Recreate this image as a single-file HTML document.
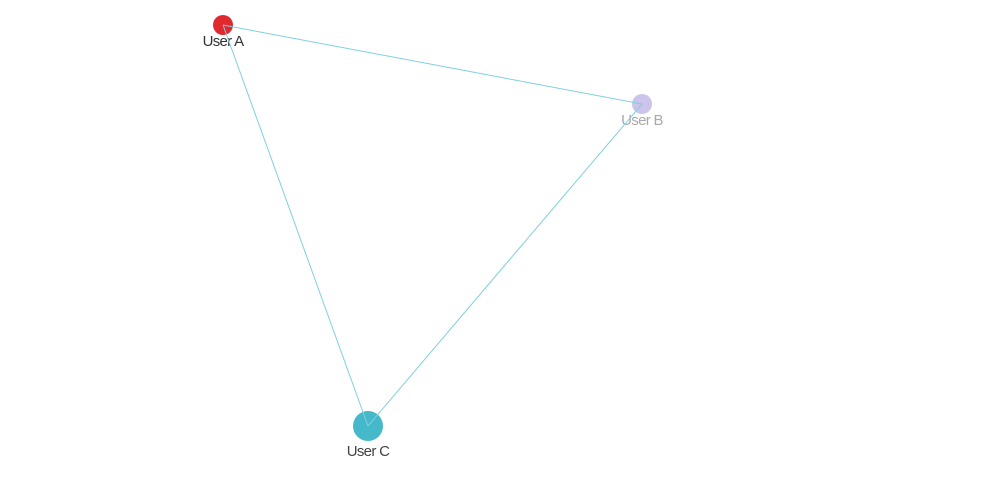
<!DOCTYPE html>
<html><head><meta charset="utf-8"><style>
body{margin:0;background:#fff;}
svg{display:block;font-family:"Liberation Sans",sans-serif;}
</style></head><body>
<svg id="chart" width="984" height="497" viewBox="0 0 984 497"></svg>
<script>
const nodeNames=["User A","User B","User C"];
const nodeX=[223,642,368];
const nodeY=[25,104,426];
const nodeSize=[10,10,15];
const nodeColors=["#e0282e","#cdc4ec","#45b8c9"];
const labelColors=["#333","#aaa","#444"];
const edgeSource=[0,0,1];
const edgeTarget=[1,2,2];
const svg=document.getElementById('chart');
const NS='http://www.w3.org/2000/svg';
const gN=document.createElementNS(NS,'g');


const gE=document.createElementNS(NS,'g');


svg.appendChild(gN);svg.appendChild(gE);
nodeNames.forEach((n,i)=>{
  const c=document.createElementNS(NS,'circle');
  
  
  c.setAttribute('cx',nodeX[i]);c.setAttribute('cy',nodeY[i]);c.setAttribute('r',nodeSize[i]);
  c.setAttribute('fill',nodeColors[i]);
  gN.appendChild(c);
  const t=document.createElementNS(NS,'text');
  
  
  t.setAttribute('x',nodeX[i]);t.setAttribute('y',nodeY[i]+nodeSize[i]*1.8+3);
  t.setAttribute('text-anchor','middle');t.setAttribute('font-size','15');
  t.setAttribute('fill',labelColors[i]);t.setAttribute('letter-spacing','-0.7');
  t.textContent=n;
  gN.appendChild(t);
});
edgeSource.forEach((s,k)=>{
  const d=edgeTarget[k];
  const l=document.createElementNS(NS,'line');
  
  
  l.setAttribute('x1',nodeX[s]);l.setAttribute('y1',nodeY[s]);
  l.setAttribute('x2',nodeX[d]);l.setAttribute('y2',nodeY[d]);
  l.setAttribute('stroke','#7fd0de');l.setAttribute('stroke-width','1');
  gE.appendChild(l);
});
</script>
</body></html>
